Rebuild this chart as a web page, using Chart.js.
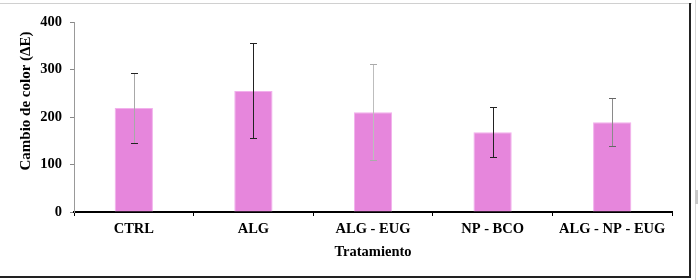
<!DOCTYPE html>
<html>
<head>
<meta charset="utf-8">
<script src="https://cdn.jsdelivr.net/npm/chart.js@4.4.1/dist/chart.umd.min.js"></script>
<style>
  html, body { margin: 0; padding: 0; background: #fff; }
  #wrap { position: relative; width: 700px; height: 280px; overflow: hidden; }
  canvas { position: absolute; left: 0; top: 0; }
  .ln { position: absolute; pointer-events: none; }
</style>
</head>
<body>
<div id="wrap">
  <canvas id="c" width="700" height="280"></canvas>
  <div class="ln" style="left:0;top:3px;width:692px;height:1px;background:#d0d0d0"></div>
  <div class="ln" style="left:689px;top:3px;width:2px;height:275px;background:#222"></div>
  <div class="ln" style="left:0;top:276px;width:691px;height:2px;background:#222"></div>
  <div class="ln" style="left:695px;top:0;width:1px;height:280px;background:#d8d8d8"></div>
  <div class="ln" style="left:695px;top:190px;width:3px;height:14px;background:#c8c8c8"></div>
</div>
<script>
const categories = ["CTRL", "ALG", "ALG - EUG", "NP - BCO", "ALG - NP - EUG"];
const values = [219, 255, 210, 168, 189];
const errors = [73, 100, 101, 52, 50];
const yTicks = [0, 100, 200, 300, 400];
const yTitle = "Cambio de color (\u0394E)";
const xTitle = "Tratamiento";

const stemColors = ["#a8a8a8", "#222222", "#bdbdbd", "#222222", "#8a8a8a"];
const capColors = ["#222222", "#222222", "#aaaaaa", "#222222", "#666666"];

const FONT = "'Liberation Serif', 'Times New Roman', serif";

const errorBarPlugin = {
  id: 'errorBars',
  afterDatasetsDraw(chart) {
    const ctx = chart.ctx;
    const meta = chart.getDatasetMeta(0);
    const ys = chart.scales.y;
    ctx.save();
    meta.data.forEach((bar, i) => {
      const x = Math.round(bar.x) + 0.5;
      const yt = Math.round(ys.getPixelForValue(values[i] + errors[i])) + 0.5;
      const yb = Math.round(ys.getPixelForValue(values[i] - errors[i])) + 0.5;
      ctx.lineWidth = 1;
      ctx.strokeStyle = stemColors[i];
      ctx.beginPath();
      ctx.moveTo(x, yt); ctx.lineTo(x, yb);
      ctx.stroke();
      ctx.strokeStyle = capColors[i];
      ctx.beginPath();
      ctx.moveTo(x - 3.5, yt); ctx.lineTo(x + 3.5, yt);
      ctx.moveTo(x - 3.5, yb); ctx.lineTo(x + 3.5, yb);
      ctx.stroke();
    });
    ctx.restore();
  }
};

const yTitlePlugin = {
  id: 'yTitle',
  afterDraw(chart) {
    const ctx = chart.ctx;
    ctx.save();
    ctx.translate(26, 101);
    ctx.rotate(-Math.PI / 2);
    ctx.font = "bold 15px " + FONT;
    ctx.fillStyle = "#000";
    ctx.textAlign = "center";
    ctx.textBaseline = "middle";
    ctx.fillText(yTitle, 0, 0);
    ctx.restore();
  }
};

new Chart(document.getElementById('c'), {
  type: 'bar',
  data: {
    labels: categories,
    datasets: [{
      data: values,
      backgroundColor: '#e686dc',
      borderColor: '#f2b0ec',
      borderWidth: 1,
      categoryPercentage: 1,
      barPercentage: 0.32
    }]
  },
  options: {
    responsive: false,
    animation: false,
    layout: { padding: { top: 22, right: 28, left: 0, bottom: 0 } },
    plugins: { legend: { display: false }, tooltip: { enabled: false } },
    scales: {
      x: {
        grid: { display: true, drawOnChartArea: false, offset: true, color: '#000', tickLength: 4, lineWidth: 1 },
        border: { display: true, color: '#000', width: 2 },
        ticks: { color: '#000', font: { family: FONT, size: 14.5, weight: 'bold' }, padding: 5, maxRotation: 0 },
        title: { display: true, text: xTitle, color: '#000', font: { family: FONT, size: 14.5, weight: 'bold' }, padding: { top: 0, bottom: 19 } },
        afterFit(s) { s.height = 68; }
      },
      y: {
        min: 0, max: 400,
        afterBuildTicks(s) { s.ticks = yTicks.map(v => ({ value: v })); },
        grid: { display: true, drawOnChartArea: false, color: '#888', tickLength: 4 },
        border: { display: true, color: '#999', width: 1 },
        ticks: { color: '#000', font: { family: FONT, size: 14.5, weight: 'bold' }, padding: 8 },
        afterFit(s) { s.width = 74; }
      }
    }
  },
  plugins: [errorBarPlugin, yTitlePlugin]
});
</script>
</body>
</html>
